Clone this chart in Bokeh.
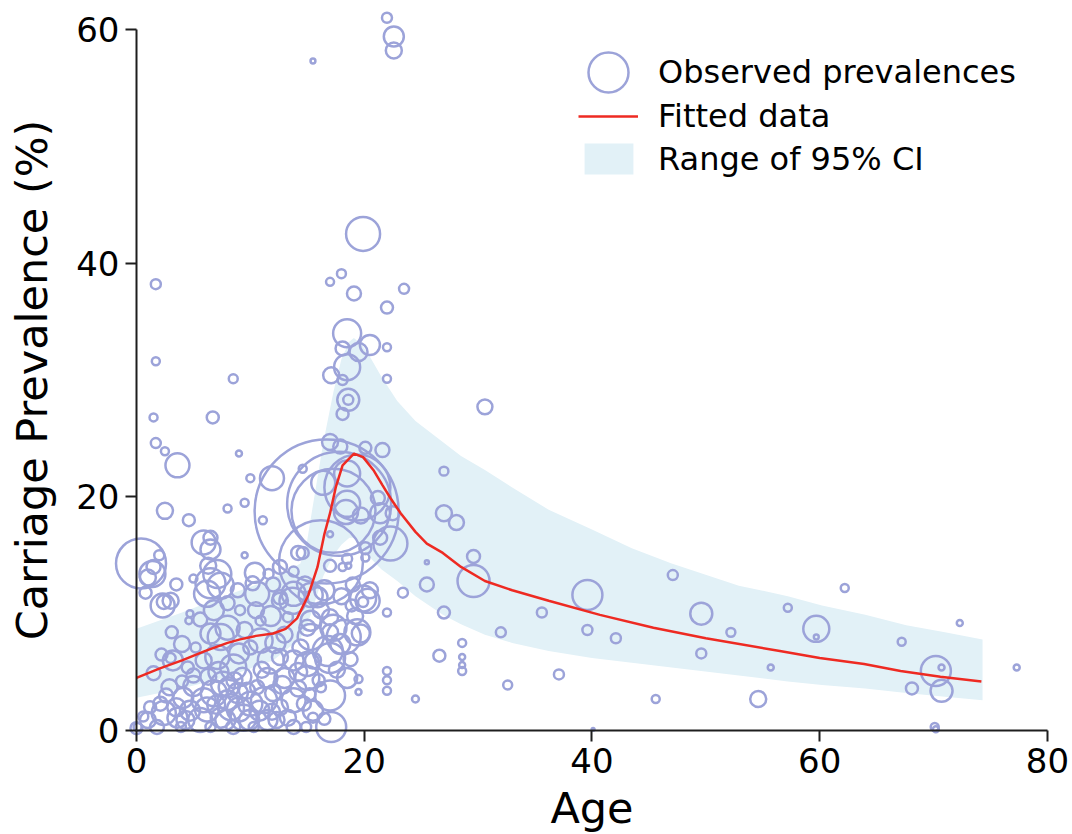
import math

from bokeh.plotting import figure
from bokeh.models import ColumnDataSource, Range1d, Legend, LegendItem, FixedTicker
from bokeh.embed import file_html
from bokeh.resources import INLINE

# Observed carriage prevalence by study group: mean age (years), prevalence (%), sample size
obs_age = [
    30.6, 27.0, 27.0, 28.1, 29.6, 25.5, 29.6, 25.5, 23.4, 27.0, 35.6, 39.6, 32.0, 28.6, 28.6,
    28.6, 28.6, 26.6, 39.6, 42.1, 47.1, 49.6, 52.2, 49.6, 37.1, 32.6, 24.5, 45.6, 54.6, 55.7,
    57.2, 59.7, 59.7, 62.2, 67.2, 72.3, 70.2, 70.7, 68.1, 70.7, 77.3, 70.1, 70.2, 40.1, 22.0,
    22.0, 22.0, 22.0, 19.5, 19.5, 20.3, 23.5, 22.0, 22.0, 22.6, 22.6, 15.5, 19.9, 18.0,
    17.0, 19.1, 18.5, 18.1, 19.5, 20.5, 22.0, 18.5, 17.1, 18.1, 22.0, 18.6, 18.6, 18.1, 1.7,
    1.7, 8.5, 1.5, 6.7, 17.0, 17.9, 21.6, 20.1, 14.6, 11.9, 18.5, 16.4, 21.2, 18.5, 18.4,
    19.7, 22.5, 21.4, 21.4, 22.3, 17.0, 14.6, 20.1, 20.1, 18.5, 18.1, 17.0, 13.8, 15.9, 17.0,
    19.4, 15.3, 12.6, 19.9, 20.5, 1.7, 2.5, 3.6, 9.0, 2.5, 4.6, 8.0, 9.5, 10.0, 11.1,
    5.9, 6.5, 6.5, 9.5, 5.0, 10.4, 10.2, 6.5, 6.2, 14.2, 12.6, 13.8, 15.3, 18.6, 19.9,
    16.7, 17.8, 16.2, 17.3, 0.4, 1.4, 1.0, 1.5, 2.3, 2.4, 3.1, 4.7, 4.6, 7.1, 7.4,
    6.3, 8.0, 8.9, 9.1, 10.6, 11.6, 12.6, 13.7, 13.3, 10.9, 7.4, 8.0, 6.5, 5.2, 3.2,
    3.0, 1.5, 4.5, 5.9, 7.1, 8.5, 7.6, 10.0, 10.9, 11.8, 12.6, 11.5, 13.8, 15.3, 14.4,
    15.5, 16.8, 17.3, 17.9, 17.0, 16.2, 15.0, 16.2, 17.0, 17.1, 18.5, 1.0, 0.1, 1.8, 2.4,
    3.6, 2.1, 4.1, 4.7, 5.6, 5.9, 6.8, 7.4, 6.5, 8.3, 8.0, 8.9, 9.4, 10.0, 9.7,
    10.6, 11.2, 11.5, 12.0, 12.6, 13.3, 13.8, 13.8, 15.0, 14.7, 15.5, 15.5, 14.9, 8.5, 10.3,
    3.9, 16.0, 18.2, 19.7, 15.0, 17.0, 0.0, 4.3, 3.0, 19.4,
    2.9, 3.5, 5.0, 6.2, 7.0, 7.8, 9.0, 9.9, 10.8, 12.3, 12.8, 11.0, 9.3, 8.1, 6.3,
    5.0, 4.0, 2.6, 1.2, 0.6, 13.0, 14.2, 14.2, 12.2, 13.0, 9.0, 9.5, 6.8, 5.6, 4.0,
    2.2, 10.5, 11.8, 12.0, 3.5, 2.0, 0.8, 14.8, 16.5, 18.0, 18.9, 19.0, 17.6, 18.8, 19.2,
    16.5, 15.2, 11.9, 8.6, 7.2,
]
obs_prev = [
    27.7, 22.2, 18.6, 17.8, 14.9, 14.4, 12.8, 12.5, 11.8, 10.1, 10.1, 11.6, 8.4, 7.5, 6.3,
    5.6, 5.1, 6.4, 8.6, 7.9, 13.3, 10.0, 8.4, 6.6, 4.8, 3.9, 2.7, 2.7, 2.7, 5.4,
    10.5, 8.7, 8.0, 12.2, 7.6, 9.2, 5.1, 5.4, 3.6, 3.4, 5.4, 0.3, 0.1, 0.1, 10.1,
    5.1, 4.3, 3.4, 4.4, 3.3, 11.1, 37.8, 36.2, 61.0, 59.4, 58.2, 57.3, 42.5, 39.1,
    38.4, 37.4, 34.0, 32.7, 32.4, 33.0, 32.8, 31.1, 30.4, 30.0, 30.1, 28.3, 28.3, 27.1, 38.2,
    31.6, 30.1, 26.8, 26.8, 24.7, 24.3, 24.0, 24.2, 22.4, 21.6, 22.0, 21.2, 19.9, 19.4, 18.7,
    18.4, 18.6, 18.6, 16.5, 16.0, 16.8, 15.2, 15.6, 14.8, 14.7, 14.0, 14.1, 11.7, 11.4, 8.4,
    8.4, 9.4, 11.4, 11.0, 12.0, 24.6, 23.9, 22.7, 23.7, 18.8, 18.0, 19.0, 19.5, 21.6, 18.0,
    16.1, 15.5, 16.5, 15.0, 13.0, 13.5, 12.6, 12.6, 11.7, 15.2, 14.0, 13.6, 11.6, 14.1, 11.3,
    18.75, 19.4, 14.4, 18.8, 14.3, 13.4, 13.1, 14.0, 10.7, 11.0, 8.4, 10.0, 9.4, 13.4, 12.4,
    14.1, 10.9, 12.0, 10.3, 11.7, 13.4, 11.1, 11.1, 9.7, 9.4, 8.0, 8.8, 8.3, 7.1, 6.0,
    6.2, 4.9, 5.4, 6.0, 6.3, 5.4, 4.0, 7.1, 7.7, 6.0, 6.3, 4.5, 6.0, 8.0, 7.1,
    6.0, 6.8, 8.8, 7.4, 9.7, 10.3, 8.8, 3.7, 3.0, 0.3, 4.5, 0.9, 0.3, 0.3, 1.5,
    1.1, 2.3, 2.8, 1.7, 0.9, 2.6, 3.2, 1.1, 0.3, 2.0, 2.6, 3.2, 1.1, 2.3, 3.4,
    3.7, 2.6, 0.9, 3.2, 2.0, 1.1, 0.3, 2.6, 4.5, 2.3, 1.1, 1.7, 0.3, 0.3, 0.3,
    0.3, 4.3, 8.0, 8.3, 5.7, 6.2, 0.2, 0.9, 11.1, 20.8,
    3.7, 2.0, 3.8, 1.8, 2.2, 0.9, 1.8, 0.9, 1.7, 0.9, 3.9, 5.2, 4.6, 3.7, 4.6,
    4.7, 4.2, 3.0, 2.0, 1.2, 4.5, 3.6, 5.0, 7.5, 8.2, 6.6, 8.6, 10.3, 9.5, 7.4,
    6.5, 10.3, 9.8, 12.5, 12.5, 15.0, 11.8, 12.5, 12.0, 11.5, 10.7, 12.5, 5.2, 6.1, 9.8,
    1.0, 3.1, 1.6, 4.3, 5.0,
]
obs_n = [
    56, 20, 64, 56, 42, 4, 256, 49, 25, 36, 25, 225, 25, 16, 9,
    9, 16, 36, 25, 25, 25, 121, 20, 25, 25, 20, 12, 16, 64, 9,
    16, 169, 6, 16, 16, 9, 225, 9, 36, 121, 9, 16, 9, 2, 16,
    16, 16, 16, 16, 9, 144, 25, 36, 25, 100, 64, 6, 289, 20,
    16, 49, 196, 49, 81, 100, 16, 169, 64, 25, 16, 121, 25, 36, 25,
    16, 20, 16, 36, 64, 49, 49, 36, 16, 144, 169, 144, 49, 169, 144,
    64, 49, 100, 49, 289, 9, 36, 36, 16, 25, 16, 36, 144, 100, 64,
    169, 100, 49, 25, 64, 25, 16, 144, 9, 64, 36, 16, 16, 16, 16,
    144, 100, 49, 9, 16, 100, 49, 225, 169, 49, 49, 25, 144, 9, 169,
    5184, 2704, 1764, 1764, 625, 169, 64, 49, 144, 49, 36, 12, 12, 196, 169,
    64, 49, 49, 25, 144, 25, 64, 169, 25, 25, 169, 144, 100, 25, 100,
    25, 49, 36, 64, 144, 169, 144, 49, 144, 169, 64, 100, 100, 169, 64,
    64, 225, 169, 100, 64, 64, 64, 25, 225, 225, 100, 64, 16, 49, 144,
    100, 49, 100, 100, 144, 144, 169, 100, 25, 169, 100, 100, 169, 144, 64,
    49, 169, 100, 64, 64, 64, 49, 144, 144, 49, 25, 100, 25, 49, 25,
    25, 36, 289, 81, 144, 225, 36, 81, 64, 1089,
    64, 81, 100, 144, 81, 100, 144, 100, 100, 64, 81, 64, 81, 100, 64,
    49, 36, 49, 36, 25, 100, 64, 81, 100, 64, 100, 64, 100, 49, 64,
    36, 64, 100, 49, 36, 25, 36, 64, 100, 64, 36, 49, 64, 49, 64,
    36, 36, 64, 64, 100,
]

# Fitted age-prevalence curve
fit_age = [0, 2, 4, 6, 8, 9.1, 10.5, 12, 13.1, 14.1, 15.1, 15.9, 16.5, 17.0, 17.5, 18.1,
           19.1, 19.9, 20.8, 21.6, 22.3, 23.2, 24.5, 25.5, 26.9, 28.5, 30.6, 33.0, 36.2,
           40.7, 45.4, 50.0, 56.5, 60.0, 63.9, 67.1, 70.6, 74.2]
fit_prev = [4.5, 5.3, 6.0, 6.8, 7.5, 7.8, 8.1, 8.3, 8.7, 9.6, 11.6, 14.0, 16.8, 18.6, 20.8,
            22.7, 23.7, 23.4, 22.3, 21.0, 19.9, 18.6, 17.0, 16.0, 15.2, 14.0, 12.8, 12.0,
            11.1, 9.9, 8.8, 7.9, 6.8, 6.2, 5.7, 5.1, 4.6, 4.2]

# 95% confidence band of the fit
ci_age = [0, 4, 8, 12, 14.4, 15.0, 15.5, 16.4, 17.3, 18.0, 18.7, 19.1, 19.8, 20.5, 21.5,
          22.9, 24.5, 26.9, 28.5, 30.6, 33.0, 36.2, 40.0, 43.5, 47.0, 52.9, 57.2, 60.2,
          64.0, 67.6, 71.0, 74.3]
ci_low = [2.8, 3.6, 4.6, 6.0, 7.9, 9.0, 10.5, 13.2, 15.0, 15.9, 16.5, 16.5, 15.6, 14.8, 13.8,
          12.8, 11.5, 9.9, 9.1, 8.2, 7.5, 6.8, 6.2, 5.8, 5.4, 4.7, 4.2, 3.9, 3.6, 3.2, 2.9, 2.6]
ci_high = [8.7, 10.1, 11.6, 13.0, 14.3, 16.3, 19.3, 24.6, 29.0, 31.8, 33.3, 33.6, 33.0, 32.0,
           30.3, 28.2, 26.5, 24.7, 23.5, 22.3, 20.8, 18.9, 17.2, 15.6, 14.3, 12.4, 11.5, 10.7,
           9.9, 9.0, 8.4, 7.8]

x_ticks = [0, 20, 40, 60, 80]
y_ticks = [0, 20, 40, 60]

FONT = "DejaVu Sans"
CIRCLE_COLOR = "#9ca3d9"
LINE_COLOR = "#ee2a22"
BAND_COLOR = "#e2f1f7"
AXIS_COLOR = "#1e1e1e"

# marker diameter (px) grows with the square root of the sample size
obs_src = ColumnDataSource(dict(
    age=obs_age, prev=obs_prev, d=[2.0 * math.sqrt(n) for n in obs_n]))
fit_src = ColumnDataSource(dict(age=fit_age, prev=fit_prev))
ci_src = ColumnDataSource(dict(age=ci_age, low=ci_low, high=ci_high))

# the plotting frame fills the whole canvas; the axes are pinned at the origin
p = figure(
    width=1072, height=834,
    x_range=Range1d(-11.94, 82.2), y_range=Range1d(-8.90, 62.48),
    output_backend="svg", toolbar_location=None, min_border=0,
)
p.outline_line_color = None
p.grid.grid_line_color = None
p.background_fill_color = "white"

r_ci = p.varea(x="age", y1="low", y2="high", source=ci_src, fill_color=BAND_COLOR)
r_obs = p.scatter(x="age", y="prev", size="d", source=obs_src, marker="circle",
                  fill_color=None, line_color=CIRCLE_COLOR, line_width=2.5)
r_fit = p.line(x="age", y="prev", source=fit_src, line_color=LINE_COLOR, line_width=2.5)

for ax, ticks, bounds in ((p.xaxis, x_ticks, (0, 80)), (p.yaxis, y_ticks, (0, 60))):
    ax.fixed_location = 0
    ax.bounds = bounds
    ax.ticker = FixedTicker(ticks=ticks)
    ax.axis_line_color = AXIS_COLOR
    ax.axis_line_width = 2
    ax.major_tick_line_color = AXIS_COLOR
    ax.major_tick_line_width = 2
    ax.major_tick_in = 0
    ax.major_tick_out = 11
    ax.minor_tick_line_color = None
    ax.major_label_text_font = FONT
    ax.major_label_text_font_size = "34px"
    ax.major_label_text_color = "black"
    ax.major_label_standoff = 6
    ax.axis_label_text_font = FONT
    ax.axis_label_text_font_size = "43px"
    ax.axis_label_text_font_style = "normal"
    ax.axis_label_text_color = "black"

p.xaxis.axis_label = "Age"
p.xaxis.axis_label_standoff = 7
p.yaxis.axis_label = "Carriage Prevalence (%)"
p.yaxis.axis_label_standoff = 16


def make_legend(label, renderer, loc, gw, gh, standoff):
    return Legend(
        items=[LegendItem(label=label, renderers=[renderer])],
        location=loc, glyph_width=gw, glyph_height=gh, label_standoff=standoff,
        padding=0, margin=0, spacing=0,
        border_line_color=None, background_fill_alpha=0,
        label_text_font=FONT, label_text_font_size="32px", label_text_color="black",
    )


p.add_layout(make_legend("Observed prevalences", r_obs, (558, 710), 100, 104, 0))
p.add_layout(make_legend("Fitted data", r_fit, (578, 698), 60, 40, 20))
p.add_layout(make_legend("Range of 95% CI", r_ci, (578, 656), 61, 39, 19))

open("out.html", "w").write(file_html(p, INLINE))
